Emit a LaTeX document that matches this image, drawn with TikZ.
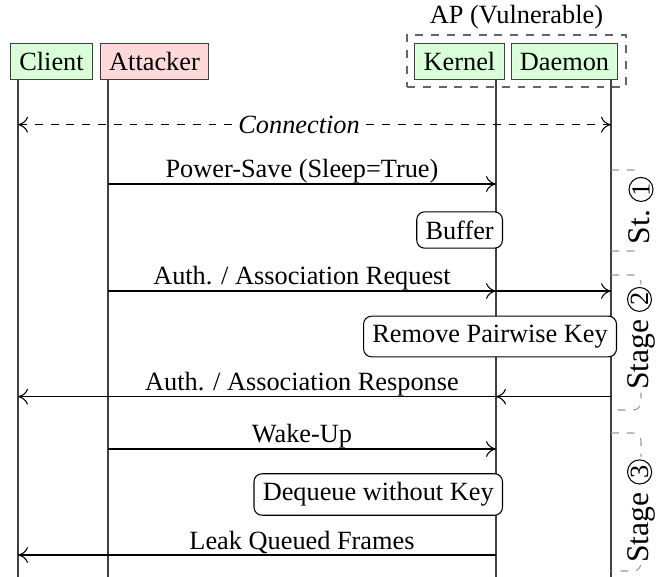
\documentclass[tikz,border=0pt]{standalone}
\usepackage{fontspec}
\setmainfont{Liberation Serif}
\usetikzlibrary{arrows.meta}
\newcommand\cnum[1]{\tikz[baseline=(cn.base)]\node[draw=black,solid,circle,inner sep=0.3pt,font=\normalsize,fill=none,line width=0.4pt,text=black](cn){#1};}
\begin{document}
\begin{tikzpicture}[x=0.38pt,y=-0.38pt,
  actor/.style={draw=black!75, line width=0.4pt, inner sep=3.33pt, text height=6.9pt, text depth=0pt},
  life/.style={draw=black!75, line width=0.4pt},
  tip/.tip={To[length=3.8pt,width=6pt]},
  msg/.style={draw=black, line width=0.4pt, -tip},
  lbl/.style={anchor=base, inner sep=0pt},
  act/.style={draw=black, rounded corners=3pt, fill=white, inner sep=3.33pt, anchor=east},
  apbox/.style={draw=black!60, dashed, line width=0.5pt},
  stagebr/.style={draw=black!40, dashed, line width=0.4pt, rounded corners=3pt},
  stagelbl/.style={fill=white, rotate=90, solid, text=black, inner sep=1pt, font=\large}
]
\useasboundingbox (0,0) rectangle (663,577);
% group box
\node[apbox, minimum width=83.2pt, minimum height=19.8pt, inner sep=0pt] (ap) at (516.5,61) {};
\node[anchor=base] (aplabel) at (516.5,24) {AP (Vulnerable)};
% actors
\node[actor, fill=green!15] (client) at (51.5,61.5) {Client};
\node[actor, fill=red!15] (attacker) at (154.5,61.5) {Attacker};
\node[actor, fill=green!15] (kernel) at (459.5,61.5) {Kernel};
\node[actor, fill=green!15] (daemon) at (564.5,61.5) {Daemon};
% lifelines
\coordinate (cT) at (18,79);  \coordinate (cB) at (18,577);
\coordinate (aT) at (108,79); \coordinate (aB) at (108,577);
\coordinate (kT) at (496,79); \coordinate (kB) at (496,577);
\coordinate (dT) at (611,79); \coordinate (dB) at (611,577);
\draw[life] (cT) -- (cB);
\draw[life] (aT) -- (aB);
\draw[life] (kT) -- (kB);
\draw[life] (dT) -- (dB);
% rows
\coordinate (r0) at (0,124.7);
\coordinate (r1) at (0,184);
\coordinate (r2) at (0,291);
\coordinate (r3) at (0,396.7);
\coordinate (r4) at (0,449);
\coordinate (r5) at (0,555);
% connection
\draw[dashed, line width=0.4pt, tip-tip] (cT |- r0) -- node[pos=0.474, fill=white, font=\itshape, inner sep=1.5pt] (conn) {Connection} (dT |- r0);
% power save
\draw[msg] (aT |- r1) -- (kT |- r1);
\node[lbl] (l1) at (302,178) {Power-Save (Sleep=True)};
\node[act] (buf) at (503,230) {Buffer};
% auth request
\draw[msg] (aT |- r2) -- (kT |- r2);
\draw[msg] (kT |- r2) -- (dT |- r2);
\node[lbl] (l2) at (302,285) {Auth. / Association Request};
\node[act] (rem) at (617,336.5) {Remove Pairwise Key};
% auth response
\draw[msg] (dT |- r3) -- (kT |- r3);
\draw[msg] (kT |- r3) -- (cT |- r3);
\node[lbl] (l3) at (302,390.7) {Auth. / Association Response};
% wake up
\draw[msg] (aT |- r4) -- (kT |- r4);
\node[lbl] (l4) at (302,443) {Wake-Up};
\node[act] (deq) at (503,494.5) {Dequeue without Key};
% leak
\draw[msg] (kT |- r5) -- (cT |- r5);
\node[lbl] (l5) at (302,549.5) {Leak Queued Frames};
% stages
\coordinate (s1a) at (611,170);   \coordinate (s1b) at (641,170);
\coordinate (s1c) at (641,251);   \coordinate (s1d) at (611,251);
\coordinate (s2a) at (611,275);   \coordinate (s2b) at (641,275);
\coordinate (s2c) at (641,410);   \coordinate (s2d) at (611,410);
\coordinate (s3a) at (611,433);   \coordinate (s3b) at (641,433);
\coordinate (s3c) at (641,571);   \coordinate (s3d) at (611,571);
\draw[stagebr] (s1a) -- (s1b) -- node[stagelbl] (st1) {St.~\cnum{1}} (s1c) -- (s1d);
\draw[stagebr] (s2a) -- (s2b) -- node[stagelbl, pos=0.47] (st2) {Stage~\cnum{2}} (s2c) -- (s2d);
\draw[stagebr] (s3a) -- (s3b) -- node[stagelbl, pos=0.565] (st3) {Stage~\cnum{3}} (s3c) -- (s3d);
\end{tikzpicture}
\end{document}
